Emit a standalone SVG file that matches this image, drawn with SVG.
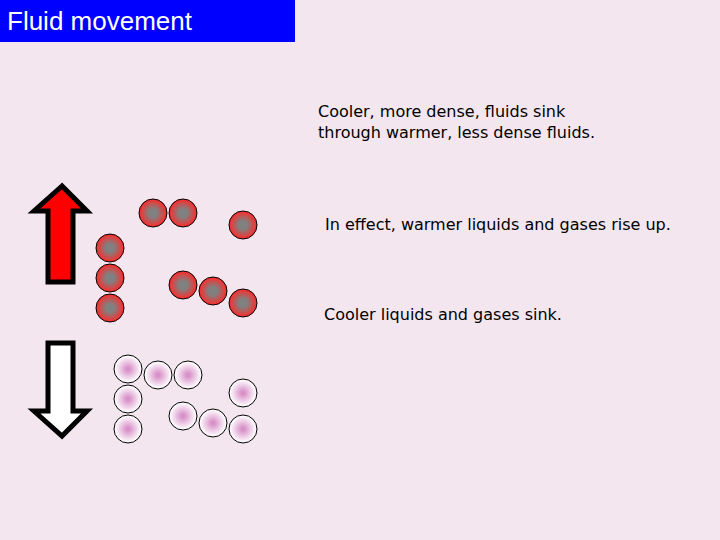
<svg xmlns="http://www.w3.org/2000/svg" width="720" height="540" viewBox="0 0 720 540">
<defs>
<radialGradient id="hot"><stop offset="0.3" stop-color="#808080"/><stop offset="1" stop-color="#ff2a2a"/></radialGradient>
<radialGradient id="cold"><stop offset="0.1" stop-color="#d890c8"/><stop offset="0.95" stop-color="#ffffff"/></radialGradient>
<style>
.h{fill:url(#hot);stroke:#000;stroke-width:1}
.c{fill:url(#cold);stroke:#000;stroke-width:1}
.t{font-family:"DejaVu Sans",sans-serif;font-size:16px;fill:#000}
</style>
</defs>
<rect width="720" height="540" fill="#f3e6ef"/>
<g id="title"><rect x="0" y="0" width="295" height="42" fill="#0000ff"/>
<text x="7" y="30" font-family="Liberation Sans,sans-serif" font-size="26" fill="#fff">Fluid movement</text></g>
<g id="texts">
<text class="t" x="318" y="117">Cooler, more dense, fluids sink</text>
<text class="t" x="318" y="138">through warmer, less dense fluids.</text>
<text class="t" x="325" y="230">In effect, warmer liquids and gases rise up.</text>
<text class="t" x="324" y="320">Cooler liquids and gases sink.</text>
</g>
<g id="up-arrow"><polygon points="62,186 34,211 48,211 48,282 73,282 73,211 87,211" fill="#ff0000" stroke="#000" stroke-width="5" stroke-linejoin="miter"/></g>
<g id="down-arrow"><polygon points="48,343 73,343 73,411 87,411 62,436 34,411 48,411" fill="#ffffff" stroke="#000" stroke-width="5"/></g>
<g id="warm">
<circle class="h" cx="153" cy="213" r="14"/><circle class="h" cx="183" cy="213" r="14"/><circle class="h" cx="243" cy="225" r="14"/>
<circle class="h" cx="110" cy="248" r="14"/><circle class="h" cx="110" cy="278" r="14"/><circle class="h" cx="110" cy="308" r="14"/>
<circle class="h" cx="183" cy="285" r="14"/><circle class="h" cx="213" cy="291" r="14"/><circle class="h" cx="243" cy="303" r="14"/>
</g>
<g id="cool">
<circle class="c" cx="128" cy="369" r="14"/><circle class="c" cx="158" cy="375" r="14"/><circle class="c" cx="188" cy="375" r="14"/>
<circle class="c" cx="128" cy="399" r="14"/><circle class="c" cx="128" cy="429" r="14"/><circle class="c" cx="243" cy="393" r="14"/>
<circle class="c" cx="183" cy="416" r="14"/><circle class="c" cx="213" cy="423" r="14"/><circle class="c" cx="243" cy="429" r="14"/>
</g>
</svg>
